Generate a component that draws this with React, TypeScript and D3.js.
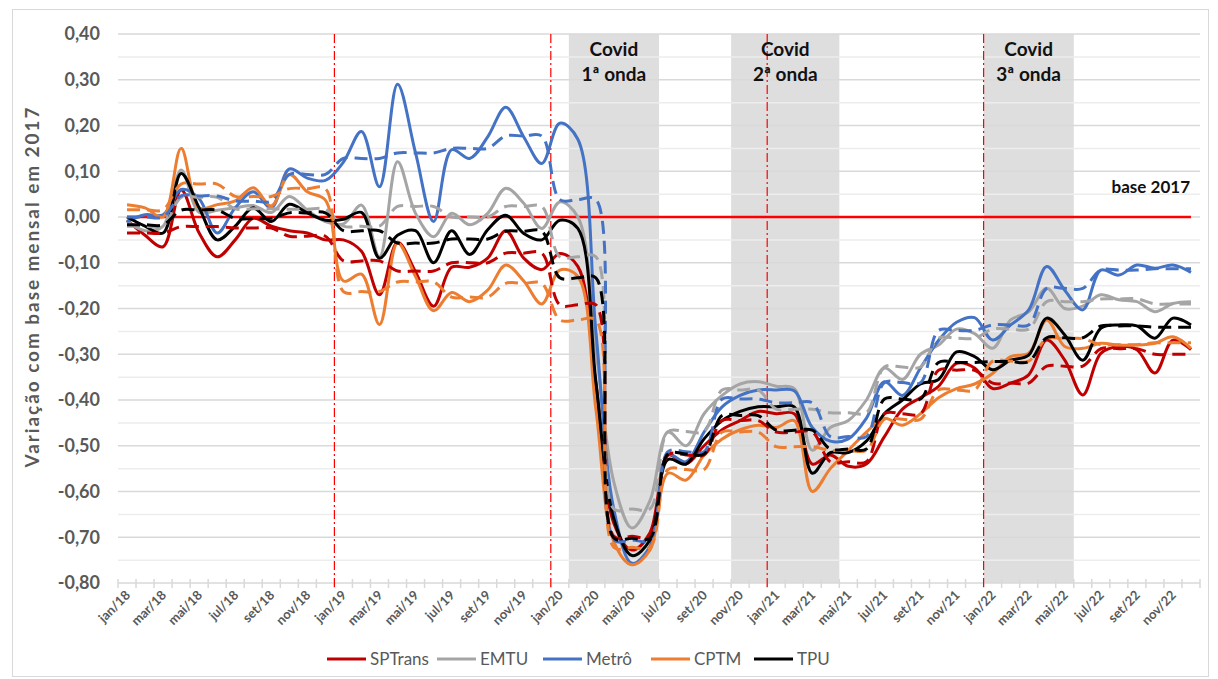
import React from 'react';
import * as d3 from 'd3';

const monthNames = ['jan', 'fev', 'mar', 'abr', 'mai', 'jun', 'jul', 'ago', 'set', 'out', 'nov', 'dez'];
const yearLabels = ['18', '19', '20', '21', '22'];
const categories = yearLabels.flatMap((yy) => monthNames.map((m) => `${m}/${yy}`));

const yTickValues = [0.4, 0.3, 0.2, 0.1, 0.0, -0.1, -0.2, -0.3, -0.4, -0.5, -0.6, -0.7, -0.8];

// monthly variation vs 2017 base (solid lines)
const spTrans = [
  -0.007, -0.04, -0.065, 0.059, -0.035, -0.087, -0.05, -0.003, -0.02, -0.03, -0.035, -0.05,
  -0.05, -0.075, -0.17, -0.055, -0.12, -0.195, -0.11, -0.11, -0.09, -0.03, -0.09, -0.115,
  -0.08, -0.108, -0.364, -0.67, -0.728, -0.69, -0.52, -0.54, -0.5, -0.465, -0.445, -0.425,
  -0.43, -0.43, -0.54, -0.52, -0.545, -0.54, -0.48, -0.42, -0.395, -0.37, -0.32, -0.33,
  -0.375, -0.363, -0.345, -0.269, -0.313, -0.389, -0.298, -0.283, -0.29, -0.341, -0.269, -0.29,
];
const emtu = [
  -0.01, -0.03, -0.02, 0.103, 0.01, 0.015, 0.02, 0.025, 0.01, 0.045, 0.015, -0.01,
  -0.015, 0.026, -0.087, 0.121, 0.008, -0.043, 0.008, -0.017, 0.008, 0.063, 0.03, -0.025,
  0.033, 0.0, -0.29, -0.58, -0.68, -0.62, -0.47, -0.5, -0.43, -0.39, -0.365, -0.36,
  -0.37, -0.375, -0.51, -0.46, -0.445, -0.4, -0.33, -0.355, -0.3, -0.28, -0.245, -0.255,
  -0.287, -0.225, -0.207, -0.156, -0.2, -0.195, -0.17, -0.181, -0.185, -0.207, -0.189, -0.185,
];
const metro = [
  -0.01, 0.005, 0.005, 0.06, 0.04, -0.035, 0.02, 0.055, 0.02, 0.105, 0.085, 0.08,
  0.12, 0.187, 0.066, 0.29, 0.14, -0.01, 0.147, 0.128, 0.175, 0.24, 0.175, 0.117,
  0.205, 0.17, -0.25, -0.64, -0.757, -0.72, -0.52, -0.535, -0.47, -0.415, -0.39, -0.378,
  -0.378, -0.38, -0.46, -0.49, -0.485, -0.44, -0.36, -0.39, -0.33, -0.27, -0.23, -0.22,
  -0.269, -0.236, -0.203, -0.108, -0.16, -0.203, -0.116, -0.127, -0.105, -0.112, -0.105, -0.121,
];
const cptm = [
  0.027, 0.02, 0.0, 0.15, 0.02, 0.027, 0.035, 0.064, 0.024, 0.093, 0.055, 0.037,
  -0.14, -0.125, -0.235, -0.057, -0.13, -0.205, -0.165, -0.185, -0.16, -0.105, -0.14, -0.19,
  -0.116, -0.13, -0.42, -0.71, -0.76, -0.728, -0.56, -0.575, -0.52, -0.485, -0.465, -0.455,
  -0.46, -0.445, -0.6, -0.55, -0.51, -0.47, -0.44, -0.455, -0.43, -0.395, -0.375, -0.365,
  -0.342, -0.305, -0.298, -0.225, -0.283, -0.287, -0.276, -0.28, -0.28, -0.276, -0.262, -0.287,
];
const tpu = [
  0.0, -0.02, -0.035, 0.095, 0.02, -0.05, -0.02, 0.02, -0.01, 0.028, 0.009, -0.007,
  -0.005, 0.01, -0.09, -0.04, -0.03, -0.1, -0.03, -0.082, -0.028, 0.004, -0.036, -0.05,
  -0.007, -0.025, -0.36, -0.66, -0.74, -0.706, -0.53, -0.54, -0.485, -0.445, -0.425, -0.415,
  -0.415, -0.415, -0.56, -0.515, -0.515, -0.49, -0.43, -0.4, -0.365, -0.355, -0.295, -0.305,
  -0.334, -0.313, -0.302, -0.221, -0.258, -0.313, -0.243, -0.236, -0.238, -0.265, -0.221, -0.236,
];

// quarterly averages (dashed lines), one value per quarter 2018 Q1 .. 2022 Q4
const spTransQ = [-0.035, -0.021, -0.024, -0.042, -0.096, -0.118, -0.1, -0.079, -0.192, -0.698, -0.52, -0.445, -0.47, -0.535, -0.43, -0.335, -0.363, -0.326, -0.288, -0.3];
const emtuQ = [-0.02, 0.043, 0.018, 0.017, -0.02, 0.023, 0.0, 0.023, -0.087, -0.638, -0.469, -0.378, -0.42, -0.428, -0.328, -0.265, -0.245, -0.185, -0.179, -0.19];
const metroQ = [0.0, 0.046, 0.035, 0.093, 0.128, 0.14, 0.15, 0.177, 0.038, -0.706, -0.513, -0.398, -0.406, -0.48, -0.362, -0.248, -0.236, -0.156, -0.116, -0.113];
const cptmQ = [0.016, 0.072, 0.045, 0.062, -0.163, -0.142, -0.175, -0.145, -0.225, -0.722, -0.552, -0.47, -0.502, -0.51, -0.442, -0.378, -0.315, -0.266, -0.279, -0.275];
const tpuQ = [-0.017, 0.015, -0.003, 0.009, -0.03, -0.057, -0.048, -0.031, -0.133, -0.702, -0.518, -0.434, -0.466, -0.507, -0.398, -0.318, -0.316, -0.264, -0.238, -0.241];

const seriesNames = ['SPTrans', 'EMTU', 'Metrô', 'CPTM', 'TPU'];
const seriesColors = ['#C00000', '#A5A5A5', '#4472C4', '#ED7D31', '#000000'];
const monthlySeries = [spTrans, emtu, metro, cptm, tpu];
const quarterlySeries = [spTransQ, emtuQ, metroQ, cptmQ, tpuQ];

const covidWaves = [
  { from: 'fev/20', to: 'jun/20', lines: ['Covid', '1ª onda'] },
  { from: 'nov/20', to: 'abr/21', lines: ['Covid', '2ª onda'] },
  { from: 'jan/22', to: 'mai/22', lines: ['Covid', '3ª onda'] },
];
const yearMarks = ['jan/19', 'jan/20', 'jan/21', 'jan/22'];

const W = 1218;
const H = 679;
const FONT = 'Lato, "Open Sans", "DejaVu Sans", sans-serif';
const GRAY_TEXT = '#595959';

export default function App() {
  const x = d3.scaleBand<string>().domain(categories).range([118, 1200]).padding(0);
  const y = d3.scaleLinear().domain([-0.8, 0.4]).range([583, 34]);
  const bw = x.bandwidth();
  const cx = (c: string) => (x(c) as number) + bw / 2;

  const fmt = d3.formatLocale({ decimal: ',', thousands: '.', grouping: [3], currency: ['R$', ''], minus: '-' }).format('.2f');

  const line = d3
    .line<number>()
    .x((_, i) => cx(categories[i]))
    .y((v) => y(v))
    .curve(d3.curveCatmullRom.alpha(0.5));

  const expandQ = (q: number[]) => categories.map((_, i) => q[Math.floor(i / 3)]);

  const [y0, y1] = y.range();
  const minorTicks = yTickValues.slice(1).map((t) => t + 0.05);

  const legendX = [327, 437, 543, 651, 754];

  return (
    <div style={{ position: 'absolute', left: 0, top: 0 }}>
      <svg width={W} height={H} style={{ display: 'block', background: '#fff' }}>
        <rect x={0} y={0} width={W} height={H} fill="#fff" />
        <rect x={12.5} y={9.5} width={1196} height={667} fill="none" stroke="#D9D9D9" strokeWidth={1} />

        {covidWaves.map((w, i) => (
          <rect key={`cw${i}`} x={x(w.from) as number} y={y1} width={(x(w.to) as number) + bw - (x(w.from) as number)} height={y0 - y1} fill="#DEDEDE" />
        ))}

        {minorTicks.map((t, i) => (
          <line key={`mn${i}`} x1={118} x2={1200} y1={y(t)} y2={y(t)} stroke="#EDEDED" strokeWidth={1.5} />
        ))}
        {yTickValues.map((t, i) => (
          <line key={`mj${i}`} x1={118} x2={1200} y1={y(t)} y2={y(t)} stroke="#D9D9D9" strokeWidth={1.5} />
        ))}

        {categories.concat(['end']).map((c, i) => {
          const xx = c === 'end' ? 1200 : (x(c) as number);
          return <line key={`tk${i}`} x1={xx} x2={xx} y1={579} y2={588} stroke="#D9D9D9" strokeWidth={1.5} />;
        })}

        {yearMarks.map((c, i) => (
          <line key={`ym${i}`} x1={x(c) as number} x2={x(c) as number} y1={y1} y2={588} stroke="#FF0000" strokeWidth={1.2} strokeDasharray="9,3,2,3" />
        ))}

        <line x1={cx(categories[0])} x2={cx(categories[categories.length - 1])} y1={y(0)} y2={y(0)} stroke="#FF0000" strokeWidth={2.6} />

        {monthlySeries.map((s, i) => (
          <path key={`s${i}`} d={line(s) || ''} fill="none" stroke={seriesColors[i]} strokeWidth={3} strokeLinejoin="round" />
        ))}
        {quarterlySeries.map((q, i) => (
          <path key={`q${i}`} d={line(expandQ(q)) || ''} fill="none" stroke={seriesColors[i]} strokeWidth={3} strokeDasharray="13,7" />
        ))}

        {yTickValues.map((t, i) => (
          <text key={`yl${i}`} x={100} y={y(t)} dy="0.36em" textAnchor="end" fontFamily={FONT} fontWeight="bold" fontSize={18} fill={GRAY_TEXT}>
            {fmt(t)}
          </text>
        ))}

        {categories.map((c, i) =>
          i % 2 === 0 ? (
            <text key={`xl${i}`} transform={`translate(${cx(c) + 4},${596}) rotate(-45)`} textAnchor="end" fontFamily={FONT} fontWeight="bold" fontSize={13} fill={GRAY_TEXT}>
              {c}
            </text>
          ) : null
        )}

        <text transform={`translate(39,${(y0 + y1) / 2 - 21}) rotate(-90)`} textAnchor="middle" fontFamily={FONT} fontWeight="bold" fontSize={19} fill={GRAY_TEXT} textLength={360} lengthAdjust="spacing">
          Variação  com base mensal em 2017
        </text>

        {covidWaves.map((w, i) => {
          const mid = ((x(w.from) as number) + (x(w.to) as number) + bw) / 2;
          return (
            <text key={`cl${i}`} x={mid} textAnchor="middle" fontFamily={FONT} fontWeight="bold" fontSize={19} fill="#111">
              <tspan x={mid} y={56}>{w.lines[0]}</tspan>
              <tspan x={mid} y={81}>{w.lines[1]}</tspan>
            </text>
          );
        })}

        <text x={1190} y={193} textAnchor="end" fontFamily={FONT} fontWeight="bold" fontSize={17} fill="#111">
          base 2017
        </text>

        {seriesNames.map((n, i) => (
          <g key={`lg${i}`}>
            <line x1={legendX[i]} x2={legendX[i] + 39} y1={659} y2={659} stroke={seriesColors[i]} strokeWidth={3} />
            <text x={legendX[i] + 43} y={665} fontFamily={FONT} fontSize={17} fill={GRAY_TEXT}>
              {n}
            </text>
          </g>
        ))}
      </svg>
    </div>
  );
}
